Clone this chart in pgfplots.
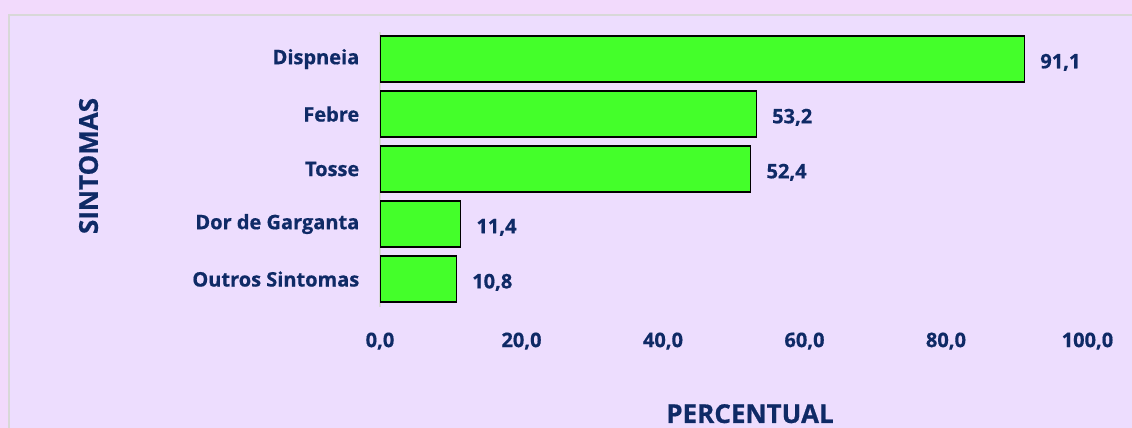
\documentclass[border=0pt]{standalone}
\usepackage{pgfplots}
\pgfplotsset{compat=1.18}
\usepackage{fontspec}
\setmainfont{Open Sans}[BoldFeatures={FakeBold=0.6}]
\definecolor{outerbg}{HTML}{F2DAFC}
\definecolor{innerbg}{HTML}{EDDDFE}
\definecolor{panelline}{HTML}{D8D8D8}
\definecolor{navy}{HTML}{0F2A66}
\definecolor{bargreen}{HTML}{44FF2A}
\begin{document}
\begin{tikzpicture}
  \path[use as bounding box] (0,0) rectangle (849pt,321pt);
  \fill[outerbg] (0,0) rectangle (849pt,321pt);
  \fill[innerbg] (6pt,0) rectangle (849pt,310.5pt);
  \draw[panelline, line width=1.5pt] (6.75pt,-2pt) -- (6.75pt,309.75pt) -- (852pt,309.75pt);
  \begin{axis}[
      at={(285pt,91.1pt)}, anchor=south west,
      scale only axis, width=530.6pt, height=206.25pt,
      xbar, bar width=34.5pt,
      xmin=0, xmax=100, ymin=-0.5, ymax=4.5, y dir=reverse,
      xtick={0,20,...,100}, ytick={0,1,2,3,4},
      yticklabels={Dispneia,Febre,Tosse,Dor de Garganta,Outros Sintomas},
      axis lines*=left,
      x axis line style={draw=none},
      y axis line style={draw=panelline, line width=1.5pt, -},
      major tick length=0pt,
      /pgf/number format/assume math mode=true,
      /pgf/number format/.cd, fixed, fixed zerofill, precision=1, use comma, /pgfplots/.cd,
      tick label style={font=\fontsize{15}{18}\selectfont\bfseries, text=navy},
      xticklabel style={yshift=-16pt},
      yticklabel style={xshift=-12pt},
      nodes near coords,
      nodes near coords style={font=\fontsize{15}{18}\selectfont\bfseries, text=navy, anchor=west,
        xshift=8pt, yshift=-2.5pt,
        /pgf/number format/.cd, fixed, fixed zerofill, precision=1, use comma},
    ]
    \addplot[fill=bargreen, draw=black, line width=1.1pt] coordinates {
      (91.1,0) (53.2,1) (52.4,2) (11.4,3) (10.8,4)};
  \end{axis}
  \node[font=\fontsize{19.5}{22}\selectfont\bfseries, text=navy, rotate=90] at (66.4pt,196.5pt) {SINTOMAS};
  \node[font=\fontsize{19.5}{22}\selectfont\bfseries, text=navy, anchor=base] at (562.5pt,3.75pt) {PERCENTUAL};
\end{tikzpicture}
\end{document}
